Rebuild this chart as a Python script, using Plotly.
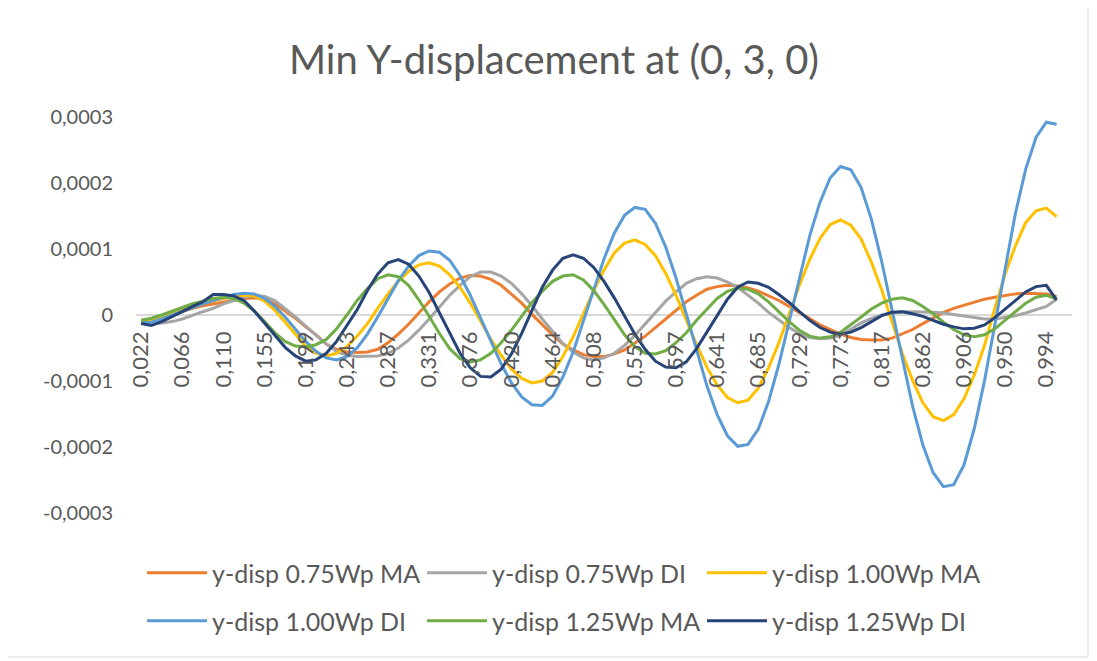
import plotly.graph_objects as go

# Category axis (time values), every 4th one is labelled
categories = [
    "0,022", "0,033", "0,044", "0,055", "0,066", "0,077", "0,088", "0,099", "0,110", "0,122",
    "0,133", "0,144", "0,155", "0,166", "0,177", "0,188", "0,199", "0,210", "0,221", "0,232",
    "0,243", "0,254", "0,265", "0,276", "0,287", "0,298", "0,309", "0,320", "0,331", "0,342",
    "0,353", "0,365", "0,376", "0,387", "0,398", "0,409", "0,420", "0,431", "0,442", "0,453",
    "0,464", "0,475", "0,486", "0,497", "0,508", "0,519", "0,530", "0,541", "0,552", "0,563",
    "0,574", "0,585", "0,597", "0,608", "0,619", "0,630", "0,641", "0,652", "0,663", "0,674",
    "0,685", "0,696", "0,707", "0,718", "0,729", "0,740", "0,751", "0,762", "0,773", "0,784",
    "0,795", "0,806", "0,817", "0,828", "0,840", "0,851", "0,862", "0,873", "0,884", "0,895",
    "0,906", "0,917", "0,928", "0,939", "0,950", "0,961", "0,972", "0,983", "0,994", "1,005",
]
x_tick_labels = [
    "0,022", "0,066", "0,110", "0,155", "0,199", "0,243", "0,287", "0,331", "0,376", "0,420",
    "0,464", "0,508", "0,552", "0,597", "0,641", "0,685", "0,729", "0,773", "0,817", "0,862",
    "0,906", "0,950", "0,994",
]
y_tick_vals = [3e-4, 2e-4, 1e-4, 0, -1e-4, -2e-4, -3e-4]
y_tick_text = ["0,0003", "0,0002", "0,0001", "0", "-0,0001", "-0,0002", "-0,0003"]

# Series values in units of 1e-4
SCALE = 1e-4
ydisp_075_MA = [
    -0.08, -0.07, -0.04, 0.01, 0.06, 0.10, 0.14, 0.17, 0.20, 0.23,
    0.25, 0.26, 0.24, 0.17, 0.06, -0.05, -0.18, -0.30, -0.44, -0.52,
    -0.56, -0.57, -0.56, -0.52, -0.42, -0.29, -0.14, 0.03, 0.20, 0.35,
    0.47, 0.56, 0.60, 0.59, 0.54, 0.45, 0.32, 0.18, 0.01, -0.15,
    -0.30, -0.44, -0.53, -0.60, -0.63, -0.63, -0.59, -0.53, -0.43, -0.32,
    -0.19, -0.06, 0.08, 0.20, 0.30, 0.39, 0.43, 0.45, 0.44, 0.41,
    0.36, 0.29, 0.22, 0.13, 0.04, -0.06, -0.15, -0.22, -0.29, -0.34,
    -0.37, -0.38, -0.38, -0.35, -0.29, -0.22, -0.13, -0.04, 0.04, 0.10,
    0.15, 0.20, 0.24, 0.27, 0.30, 0.32, 0.33, 0.33, 0.32, 0.28,
]
ydisp_075_DI = [
    -0.12, -0.13, -0.12, -0.10, -0.06, 0.00, 0.05, 0.10, 0.17, 0.22,
    0.27, 0.30, 0.28, 0.22, 0.10, -0.03, -0.17, -0.31, -0.44, -0.55,
    -0.61, -0.63, -0.63, -0.62, -0.58, -0.50, -0.38, -0.23, -0.06, 0.12,
    0.30, 0.45, 0.58, 0.65, 0.65, 0.59, 0.48, 0.32, 0.14, -0.06,
    -0.25, -0.43, -0.56, -0.65, -0.68, -0.65, -0.58, -0.46, -0.31, -0.14,
    0.04, 0.21, 0.35, 0.48, 0.55, 0.58, 0.56, 0.50, 0.42, 0.30,
    0.18, 0.04, -0.08, -0.19, -0.28, -0.34, -0.36, -0.35, -0.31, -0.22,
    -0.12, -0.05, 0.00, 0.03, 0.05, 0.05, 0.05, 0.04, 0.03, 0.01,
    -0.02, -0.04, -0.06, -0.06, -0.04, -0.01, 0.03, 0.08, 0.13, 0.24,
]
ydisp_100_MA = [
    -0.10, -0.09, -0.04, 0.02, 0.08, 0.13, 0.18, 0.22, 0.25, 0.28,
    0.30, 0.29, 0.21, 0.07, -0.11, -0.30, -0.47, -0.58, -0.62, -0.58,
    -0.48, -0.32, -0.13, 0.10, 0.32, 0.51, 0.66, 0.76, 0.79, 0.74,
    0.61, 0.42, 0.18, -0.09, -0.37, -0.61, -0.82, -0.96, -1.03, -1.00,
    -0.87, -0.63, -0.33, 0.02, 0.37, 0.68, 0.94, 1.09, 1.14, 1.07,
    0.90, 0.63, 0.30, -0.08, -0.45, -0.79, -1.06, -1.25, -1.33, -1.29,
    -1.11, -0.80, -0.42, 0.01, 0.45, 0.84, 1.16, 1.37, 1.44, 1.36,
    1.15, 0.80, 0.38, -0.10, -0.58, -0.99, -1.33, -1.54, -1.60, -1.51,
    -1.27, -0.91, -0.46, 0.10, 0.62, 1.05, 1.40, 1.58, 1.62, 1.49,
]
ydisp_100_DI = [
    -0.12, -0.11, -0.06, 0.00, 0.06, 0.12, 0.17, 0.22, 0.27, 0.31,
    0.33, 0.32, 0.25, 0.13, -0.03, -0.22, -0.40, -0.55, -0.65, -0.68,
    -0.63, -0.50, -0.29, -0.03, 0.25, 0.52, 0.74, 0.90, 0.97, 0.95,
    0.83, 0.60, 0.30, -0.04, -0.40, -0.74, -1.03, -1.24, -1.36, -1.37,
    -1.23, -0.94, -0.56, -0.09, 0.40, 0.85, 1.24, 1.51, 1.63, 1.60,
    1.39, 1.03, 0.56, 0.02, -0.54, -1.07, -1.51, -1.83, -1.99, -1.96,
    -1.73, -1.31, -0.75, -0.10, 0.57, 1.20, 1.71, 2.08, 2.25, 2.20,
    1.93, 1.45, 0.81, 0.09, -0.67, -1.38, -1.97, -2.39, -2.60, -2.57,
    -2.27, -1.72, -0.99, -0.15, 0.72, 1.54, 2.21, 2.69, 2.92, 2.89,
]
ydisp_125_MA = [
    -0.08, -0.05, 0.00, 0.06, 0.12, 0.17, 0.21, 0.25, 0.27, 0.25,
    0.18, 0.06, -0.10, -0.27, -0.40, -0.47, -0.48, -0.45, -0.37, -0.21,
    0.00, 0.22, 0.40, 0.55, 0.61, 0.58, 0.45, 0.23, -0.02, -0.28,
    -0.51, -0.66, -0.71, -0.68, -0.58, -0.42, -0.23, -0.02, 0.19, 0.36,
    0.51, 0.59, 0.61, 0.53, 0.37, 0.16, -0.08, -0.30, -0.48, -0.58,
    -0.59, -0.54, -0.42, -0.27, -0.08, 0.09, 0.25, 0.36, 0.41, 0.39,
    0.32, 0.20, 0.05, -0.10, -0.23, -0.32, -0.35, -0.33, -0.26, -0.15,
    -0.03, 0.09, 0.18, 0.24, 0.26, 0.22, 0.13, 0.02, -0.11, -0.22,
    -0.30, -0.33, -0.30, -0.21, -0.08, 0.05, 0.18, 0.27, 0.30, 0.24,
]
ydisp_125_DI = [
    -0.13, -0.16, -0.10, -0.03, 0.05, 0.13, 0.20, 0.31, 0.31, 0.29,
    0.22, 0.06, -0.12, -0.31, -0.49, -0.62, -0.70, -0.68, -0.58, -0.40,
    -0.17, 0.08, 0.37, 0.62, 0.79, 0.84, 0.77, 0.59, 0.34, 0.03,
    -0.29, -0.58, -0.80, -0.93, -0.94, -0.82, -0.59, -0.28, 0.07, 0.42,
    0.68, 0.86, 0.91, 0.86, 0.72, 0.51, 0.26, -0.02, -0.29, -0.52,
    -0.70, -0.79, -0.80, -0.71, -0.51, -0.26, 0.00, 0.24, 0.42, 0.50,
    0.48, 0.42, 0.31, 0.19, 0.05, -0.08, -0.19, -0.26, -0.29, -0.26,
    -0.19, -0.10, -0.01, 0.04, 0.05, 0.02, -0.02, -0.08, -0.14, -0.18,
    -0.21, -0.20, -0.15, -0.04, 0.09, 0.23, 0.35, 0.43, 0.45, 0.23,
]

series_names = [
    "y-disp 0.75Wp MA", "y-disp 0.75Wp DI", "y-disp 1.00Wp MA",
    "y-disp 1.00Wp DI", "y-disp 1.25Wp MA", "y-disp 1.25Wp DI",
]
series_values = [ydisp_075_MA, ydisp_075_DI, ydisp_100_MA, ydisp_100_DI, ydisp_125_MA, ydisp_125_DI]
series_colors = ["#ED7D31", "#A5A5A5", "#FFC000", "#5B9BD5", "#70AD47", "#264478"]
series_legend = ["legend", "legend", "legend", "legend2", "legend2", "legend2"]

fig = go.Figure()
for name, vals, color, leg in zip(series_names, series_values, series_colors, series_legend):
    fig.add_trace(go.Scatter(
        x=categories[:len(vals)], y=[v * SCALE for v in vals],
        mode="lines", name=name, legend=leg,
        line=dict(color=color, width=3),
    ))

# figure sits 8px in from the page corner (default body margin)
W, H = 1089, 653
ML, MR, MT, MB = 128, 25, 109, 148
PW, PH = W - ML - MR, H - MT - MB

def px_x(p):
    return (p - ML) / PW

def px_y(p):
    return (H - MB - p) / PH

legend_common = dict(
    orientation="h", xref="container", yref="container",
    xanchor="left", yanchor="middle", itemwidth=60,
    entrywidth=205, entrywidthmode="pixels",
    font=dict(size=25, color="#595959", family="Lato"),
    bgcolor="rgba(0,0,0,0)",
)

fig.update_layout(
    width=W, height=H,
    paper_bgcolor="white", plot_bgcolor="white",
    margin=dict(l=ML, r=MR, t=MT, b=MB, autoexpand=False),
    font=dict(family="Lato", color="#595959", size=20),
    title=dict(
        text="Min Y-displacement at (0, 3, 0)",
        x=546 / W, xanchor="center", xref="container",
        y=1 - 52 / H, yanchor="middle", yref="container",
        font=dict(size=40, color="#595959", family="Lato"),
    ),
    xaxis=dict(
        type="category", categoryorder="array", categoryarray=categories,
        range=[-0.5, 90.5], tickmode="array", tickvals=x_tick_labels, ticktext=x_tick_labels,
        tickangle=-90, anchor="free", position=0.5, showline=False, showgrid=False,
        zeroline=False, ticks="", ticklabelstandoff=11, automargin=False,
        tickfont=dict(size=22, color="#595959"),
    ),
    yaxis=dict(
        range=[-3e-4, 3e-4], tickmode="array", tickvals=y_tick_vals, ticktext=y_tick_text,
        showgrid=False, zeroline=True, zerolinecolor="#D9D9D9", zerolinewidth=2,
        showline=False, ticks="", ticklabelstandoff=22, automargin=False,
        tickfont=dict(size=20, color="#595959"),
    ),
    legend=dict(legend_common, x=134 / W, y=1 - 565 / H),
    legend2=dict(legend_common, x=134 / W, y=1 - 613 / H),
    shapes=[
        dict(type="line", xref="paper", yref="paper",
             x0=px_x(1080), x1=px_x(1080), y0=px_y(649), y1=px_y(-8),
             line=dict(color="#D9D9D9", width=1)),
        dict(type="line", xref="paper", yref="paper",
             x0=px_x(-8), x1=px_x(1080), y0=px_y(649), y1=px_y(649),
             line=dict(color="#D9D9D9", width=1)),
    ],
)

fig.write_html("out.html")
